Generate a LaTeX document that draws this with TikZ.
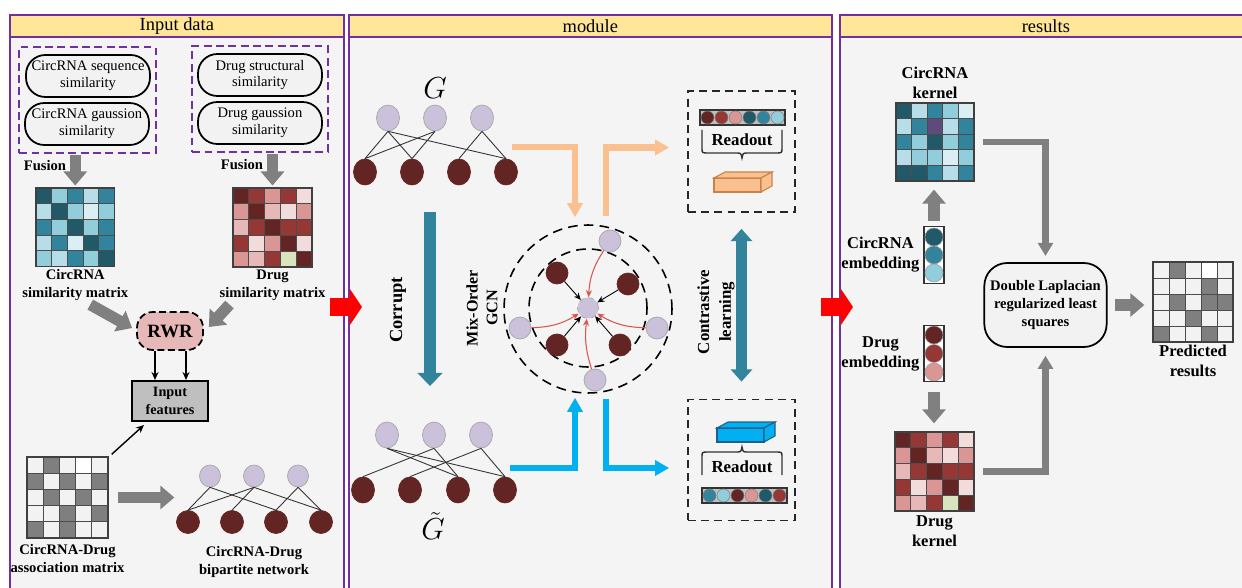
\documentclass[tikz,border=0pt]{standalone}
\usepackage{fontspec}
\setmainfont{Liberation Serif}
\usetikzlibrary{arrows.meta, positioning, shapes.geometric, fit, calc}

\definecolor{panelpurple}{HTML}{7030A0}
\definecolor{headgold}{HTML}{FFE699}
\definecolor{panelgray}{HTML}{F4F4F4}
\definecolor{tlA}{HTML}{215968}
\definecolor{tlB}{HTML}{31849B}
\definecolor{tlC}{HTML}{92CDDC}
\definecolor{tlD}{HTML}{B7DEE8}
\definecolor{tlE}{HTML}{DAEEF3}
\definecolor{rdA}{HTML}{632523}
\definecolor{rdB}{HTML}{953735}
\definecolor{rdC}{HTML}{DA9694}
\definecolor{rdD}{HTML}{E6B9B8}
\definecolor{rdE}{HTML}{F2DCDB}
\definecolor{gnL}{HTML}{D7E4BD}
\definecolor{kpur}{HTML}{604A7B}
\definecolor{gyD}{HTML}{7F7F7F}
\definecolor{gyL}{HTML}{F2F2F2}
\definecolor{lav}{HTML}{CCC1DA}
\definecolor{peach}{HTML}{FAC090}
\definecolor{peachline}{HTML}{C9834A}
\definecolor{skyblue}{HTML}{00B0F0}
\definecolor{blueline}{HTML}{1F5F8B}
\definecolor{arrowgray}{HTML}{808080}
\definecolor{rwrpink}{HTML}{E6B8B7}
\definecolor{featgray}{HTML}{BFBFBF}
\definecolor{gcnred}{HTML}{D9574A}

% 5x5 coloured grid: name, x, y, cell, rows
\newcommand{\heatmap}[5]{%
  \foreach \row [count=\i from 0] in {#5} {
    \foreach \cc [count=\j from 0] in \row
      \filldraw[fill=\cc, draw=black!70, line width=0.5pt] ({#2+\j*#4},{#3+\i*#4}) rectangle ++(#4,#4);
  }
  \node[draw=black!75, line width=0.8pt, inner sep=0pt, fit={(#2,#3) ({#2+5*#4},{#3+5*#4})}] (#1) {};
}

\begin{document}
\begin{tikzpicture}[
    x=0.02cm, y=-0.02cm,
    >=Stealth,
    font=\fontsize{8.3}{9.6}\selectfont,
    % Define styles for the different node types
    panel/.style={rectangle, draw=panelpurple, line width=1pt, fill=panelgray, anchor=north west, minimum height=11.8cm, inner sep=0pt},
    header/.style={rectangle, draw=panelpurple, line width=1pt, fill=headgold, anchor=north west, minimum height=0.44cm, inner sep=0pt, font=\fontsize{10.5}{12}\selectfont},
    simnode/.style={rectangle, rounded corners=11pt, draw, line width=1pt, fill=gyL, minimum width=2.48cm, minimum height=0.84cm, inner sep=1pt, align=center},
    dashbox/.style={rectangle, draw=panelpurple, line width=1.1pt, dash pattern=on 4.5pt off 2.5pt, inner xsep=2.8pt, inner ysep=3.8pt},
    boldlbl/.style={font=\fontsize{8.3}{10.2}\selectfont\bfseries, align=center, inner sep=1pt},
    bigl/.style={font=\fontsize{9.4}{11.4}\selectfont\bfseries, align=center, inner sep=1pt},
    rwrnode/.style={rectangle, rounded corners=9pt, draw, line width=1pt, dash pattern=on 4pt off 2pt, fill=rwrpink, minimum width=1.32cm, minimum height=0.76cm, font=\fontsize{10.7}{12}\selectfont\bfseries},
    featnode/.style={rectangle, draw, line width=1.2pt, fill=featgray, minimum width=1.52cm, minimum height=0.8cm, align=center, inner sep=1pt, font=\fontsize{8.1}{9.8}\selectfont\bfseries},
    lavnode/.style={ellipse, fill=lav, draw=black!35, line width=0.4pt, minimum width=0.46cm, minimum height=0.52cm, inner sep=0pt},
    darknode/.style={ellipse, fill=rdA, draw=rdA, line width=0.4pt, minimum width=0.46cm, minimum height=0.52cm, inner sep=0pt},
    edge/.style={draw=black!80, line width=0.5pt},
    dashring/.style={circle, draw=black, line width=0.9pt, dash pattern=on 5.5pt off 3.5pt, inner sep=0pt},
    readbox/.style={rectangle, draw=black!85, line width=1pt, dash pattern=on 4.5pt off 3pt, minimum width=2.14cm, minimum height=2.42cm},
    barnode/.style={rectangle, draw=black!80, line width=0.8pt, fill=black!25, minimum width=1.7cm, minimum height=0.3cm, inner sep=0pt},
    dot/.style={circle, draw=black!50, line width=0.3pt, minimum size=0.26cm, inner sep=0pt},
    embbar/.style={rectangle, draw=black!80, line width=0.8pt, fill=white, minimum width=0.4cm, minimum height=1.13cm, inner sep=0pt},
    embdot/.style={circle, draw=black!40, line width=0.3pt, minimum size=0.36cm, inner sep=0pt},
    readlbl/.style={font=\fontsize{9.6}{11}\selectfont\bfseries, inner sep=1pt},
    dlnode/.style={rectangle, rounded corners=13pt, draw, line width=1pt, fill=gyL, minimum width=2.38cm, minimum height=1.68cm, align=center, font=\fontsize{8.3}{10.2}\selectfont\bfseries},
    grayarrow/.style={draw=arrowgray, line width=6.5pt, -{Triangle[length=8pt, width=13pt]}},
    grayarrowthin/.style={draw=arrowgray, line width=3.6pt, -{Triangle[length=7.5pt, width=8.5pt]}},
    blackarrow/.style={draw=black, line width=0.8pt, -{Stealth[length=4.5pt, width=4pt]}},
    redarrow/.style={draw=red, line width=10.2pt, -{Triangle[length=7pt, width=20.5pt]}},
    tealarrow/.style={draw=tlB, line width=6.8pt, -{Triangle[length=7.5pt, width=14pt]}},
    peacharrow/.style={draw=peach, line width=3.6pt, -{Triangle[length=8pt, width=8.5pt]}},
    bluearrow/.style={draw=skyblue, line width=3.6pt, -{Triangle[length=8pt, width=8.5pt]}},
    gcnblack/.style={draw=black, line width=0.5pt, -{Stealth[length=4pt, width=3.5pt]}},
    gcnredarrow/.style={draw=gcnred, line width=0.6pt, -{Stealth[length=4pt, width=3.5pt]}},
    readbrace/.pic={
        \draw[black!80, line width=0.8pt] (-40,-28) -- (-40,-10) .. controls (-40,-5) .. (-34,-5) -- (-6,-5)
            .. controls (-1,-5) .. (0,0) .. controls (1,-5) .. (6,-5) -- (34,-5) .. controls (40,-5) .. (40,-10) -- (40,-28);
    },
]

\fill[white] (0,0) rectangle (1242,588);
\useasboundingbox (0,0) rectangle (1242,588);

% -------------------------
% Panels
% -------------------------
\node[panel, minimum width=6.68cm] (pinput) at (9,14) {};
\node[panel, minimum width=9.66cm] (pmodule) at (348,14) {};
\node[panel, minimum width=8.24cm] (presults) at (839,14) {};
\node[header, minimum width=6.68cm] (hinput) at (9,14) {Input data};
\node[header, minimum width=9.66cm] (hmodule) at (348,14) {module};
\node[header, minimum width=8.24cm] (hresults) at (839,14) {results};

% -------------------------
% Input data
% -------------------------
\node[simnode] (csq) at (88,76) {CircRNA sequence\\similarity};
\node[simnode] (cgs) at (87,124) {CircRNA gaussion\\similarity};
\node[simnode] (dst) at (260,75) {Drug structural\\similarity};
\node[simnode] (dgs) at (260,123) {Drug gaussion\\similarity};
\node[dashbox, fit=(csq) (cgs)] (cbox) {};
\node[dashbox, fit=(dst) (dgs)] (dbox) {};

\heatmap{cmat}{36}{188}{15.7}{{tlA,tlC,tlB,tlD,tlB},{tlD,tlA,tlC,tlE,tlC},{tlB,tlC,tlA,tlC,tlB},{tlD,tlB,tlE,tlA,tlB},{tlC,tlD,tlB,tlC,tlA}}
\heatmap{dmat}{233}{188}{15.8}{{rdA,rdB,rdC,rdB,rdE},{rdC,rdA,rdD,rdE,rdC},{rdD,rdB,rdA,rdB,rdB},{rdB,rdE,rdC,rdA,rdE},{rdC,rdD,rdB,gnL,rdA}}

\draw[grayarrow, shorten <=1pt, shorten >=1pt] (cbox.south -| cmat.north) -- (cmat.north);
\draw[grayarrow, shorten <=1pt, shorten >=1pt] (dbox.south -| dmat.north) -- (dmat.north);
\node[boldlbl] (fus1) at (45,166) {Fusion};
\node[boldlbl] (fus2) at (242,165) {Fusion};

\node[boldlbl, below=0pt of cmat] (cmatlbl) {CircRNA\\similarity matrix};
\node[boldlbl, below=0pt of dmat] (dmatlbl) {Drug\\similarity matrix};

\node[rwrnode] (rwr) at (170,331) {RWR};
\draw[grayarrow] ($(cmatlbl.south)+(15,2)$) -- ($(rwr.west)+(-4,-3)$);
\draw[grayarrow] ($(dmatlbl.south)+(-43,2)$) -- ($(rwr.east)+(5,-4)$);

\node[featnode] (feat) at (170,401) {Input\\features};
\draw[blackarrow] ($(rwr.south)+(-15,0)$) -- ($(feat.north)+(-15,0)$);
\draw[blackarrow] ($(rwr.south)+(16,0)$) -- ($(feat.north)+(16,0)$);

\heatmap{amat}{27}{457}{16.2}{{gyL,gyD,gyL,white,gyL},{gyD,gyL,gyD,gyL,gyD},{gyL,gyD,gyL,gyD,gyL},{gyL,gyL,gyD,gyL,gyD},{gyD,gyL,gyD,gyL,gyL}}
\node[boldlbl, below=2pt of amat] (amatlbl) {CircRNA-Drug\\association matrix};
\draw[blackarrow] ($(amat.north east)+(3,-2)$) -- ($(feat.south west)+(13,3)$);

% bipartite network
\foreach \k/\x in {1/210,2/254,3/298}
    \node[lavnode, minimum width=0.42cm, minimum height=0.44cm] (bt\k) at (\x,476) {};
\foreach \k/\x in {1/188,2/232,3/276,4/321}
    \node[darknode, minimum width=0.46cm, minimum height=0.46cm] (bb\k) at (\x,522) {};
\foreach \a/\b in {1/1,1/3,2/1,2/2,2/4,3/3,3/4}
    \draw[edge] (bt\a.south) -- (bb\b.north);
\draw[grayarrow, shorten <=5.5pt, shorten >=1pt] (amat.east) -- (amat.east -| bb1.west);
\node[boldlbl] (biplbl) at (254,562) {CircRNA-Drug\\bipartite network};

% -------------------------
% Module
% -------------------------
\node[font=\fontsize{16}{18}\selectfont] (glbl) at (435,88) {$G$};
\foreach \k/\x in {1/388,2/435,3/482}
    \node[lavnode] (gt\k) at (\x,118) {};
\foreach \k/\x in {1/365,2/412,3/459,4/506}
    \node[darknode] (gb\k) at (\x,172) {};
\foreach \a/\b in {1/1,1/2,1/4,2/1,2/2,3/3,3/4}
    \draw[edge] (gt\a.south) -- (gb\b.north);

\foreach \k/\x in {1/387,2/434,3/481}
    \node[lavnode] (ht\k) at (\x,435) {};
\foreach \k/\x in {1/363,2/410,3/458,4/505}
    \node[darknode] (hb\k) at (\x,490) {};
\foreach \a/\b in {1/3,1/4,2/1,2/3,3/2,3/4}
    \draw[edge] (ht\a.south) -- (hb\b.north);
\node[font=\fontsize{16}{18}\selectfont] (gtlbl) at (433,526) {$\tilde{G}$};

% corrupt
\coordinate (cor1) at (430,212);
\coordinate (cor2) at (430,386);
\draw[tealarrow] (cor1) -- (cor2);
\node[boldlbl, rotate=90, font=\fontsize{10.5}{12}\selectfont\bfseries] (corlbl) at (398,310) {Corrupt};
\node[boldlbl, rotate=90, font=\fontsize{9.2}{11.3}\selectfont\bfseries] (mixlbl) at (482,308) {Mix-Order\\GCN};

% mix-order GCN
\node[dashring, minimum size=3.36cm] (ring2) at (588,309) {};
\node[dashring, minimum size=2.36cm] (ring1) at (588,308) {};
\node[lavnode, dashed, minimum width=0.42cm, minimum height=0.42cm] (gc) at (588,308) {};
\foreach \k/\x/\y in {1/557/273,2/628/284,3/557/345,4/620/345}
    \node[darknode, minimum width=0.44cm, minimum height=0.44cm] (d\k) at (\x,\y) {};
\foreach \k/\x/\y in {1/610/241,2/520/328,3/657/328,4/595/380}
    \node[lavnode, minimum width=0.44cm, minimum height=0.44cm] (o\k) at (\x,\y) {};
\foreach \k in {1,...,4}
    \draw[gcnblack] (d\k) -- (gc);
\draw[gcnredarrow] (o1) to[bend right=15] (gc);
\draw[gcnredarrow] (o2) to[bend right=15] (gc);
\draw[gcnredarrow] (o3) to[bend left=15] (gc);
\draw[gcnredarrow] (o4) to[bend left=12] (gc);

% readout boxes
\node[readbox] (rtop) at (741.5,151.5) {};
\node[readbox] (rbot) at (741.5,460) {};

\node[barnode] (rbar1) at (742.5,117.5) {};
\foreach \cc [count=\k from 0] in {rdA,rdB,rdC,tlA,tlB,tlC}
    \node[dot, fill=\cc] (ra\k) at ({707.5+14*\k},117.5) {};
\pic at (742,158) {readbrace};
\node[readlbl] (rl1) at (742,140) {Readout};

\node[barnode] (rbar2) at (744.5,495.5) {};
\foreach \cc [count=\k from 0] in {tlB,tlC,rdA,rdC,tlA,rdB}
    \node[dot, fill=\cc] (rb\k) at ({709.5+14*\k},495.5) {};
\pic[yscale=-1] at (742,447) {readbrace};
\node[readlbl] (rl2) at (742,467) {Readout};

% feature slabs
\foreach \sx/\sy/\sf/\sd in {714/178/peach/peachline, 717/428/skyblue/blueline} {
    \filldraw[fill=\sf, draw=\sd, line width=0.6pt] (\sx,\sy) rectangle ++(47,14);
    \filldraw[fill=\sf, draw=\sd, line width=0.6pt] (\sx,\sy) -- ++(11,-6) -- ++(47,0) -- ++(-11,6) -- cycle;
    \filldraw[fill=\sf, draw=\sd, line width=0.6pt] ({\sx+47},\sy) -- ++(11,-6) -- ++(0,14) -- ++(-11,6) -- cycle;
}

% flow arrows round the GCN
\coordinate (pk1) at (512,147);
\draw[peacharrow] (pk1) -| ($(ring2.north)+(-13,-7)$);
\draw[peacharrow] ($(ring2.north)+(18,-8)$) |- ($(rtop.west)+(-18,-4)$);
\coordinate (bl1) at (510,468);
\draw[bluearrow] (bl1) -| ($(ring2.south)+(-13,4)$);
\draw[bluearrow] ($(ring2.south)+(18,5)$) |- ($(rbot.west)+(-18,8)$);

% contrastive learning
\draw[tealarrow, line width=6.2pt, {Triangle[length=7pt, width=12pt]}-{Triangle[length=7pt, width=12pt]}] ($(rtop.south)+(0,16)$) -- ($(rbot.north)+(0,-17)$);
\node[boldlbl, rotate=90, font=\fontsize{9.6}{12.5}\selectfont\bfseries] (contr) at (716,312) {Contrastive\\learning};

% -------------------------
% Results
% -------------------------
\heatmap{kmat}{896}{103}{15.6}{{tlA,tlD,tlB,tlC,tlE},{tlD,tlB,kpur,tlD,tlB},{tlB,tlC,tlA,tlC,tlB},{tlD,tlC,tlC,tlE,tlC},{tlA,tlA,tlB,tlD,tlB}}
\node[bigl, above=1pt of kmat] (kmatlbl) {CircRNA\\kernel};

\node[embbar] (cemb) at (934,255) {};
\foreach \cc/\y [count=\k] in {tlA/237,tlB/255,tlC/273}
    \node[embdot, fill=\cc] (ce\k) at (934,\y) {};
\node[bigl, left=1pt of cemb] (cemblbl) {CircRNA\\embedding};
\draw[grayarrow, shorten <=3pt, shorten >=4.5pt] (cemb.north) -- (cemb.north |- kmat.south);

\node[embbar] (demb) at (934,353.5) {};
\foreach \cc/\y [count=\k] in {rdA/335,rdB/353.5,rdC/372}
    \node[embdot, fill=\cc] (de\k) at (934,\y) {};
\node[bigl, left=1pt of demb] (demblbl) {Drug\\embedding};

\heatmap{dkmat}{895}{432}{15.8}{{rdA,rdB,rdC,rdB,rdE},{rdC,rdA,rdD,rdE,rdC},{rdD,rdB,rdA,rdB,rdB},{rdB,rdE,rdC,rdA,rdE},{rdC,rdD,rdB,gnL,rdA}}
\node[bigl, below=1pt of dkmat] (dkmatlbl) {Drug\\kernel};
\draw[grayarrow, shorten <=5.5pt, shorten >=4.5pt] (demb.south) -- (demb.south |- dkmat.north);

\node[dlnode] (dl) at (1045.5,305) {Double Laplacian\\regularized least\\squares};
\draw[grayarrowthin, shorten <=4.5pt, shorten >=3.5pt] (kmat.east) -| (dl.north);
\draw[grayarrowthin, shorten <=4.5pt, shorten >=4.5pt] (dkmat.east) -| (dl.south);

\heatmap{pmat}{1153}{262}{16}{{gyL,gyD,gyL,white,gyL},{gyL,gyL,gyL,gyD,gyL},{gyL,gyD,gyL,gyD,gyD},{gyL,gyL,gyD,gyL,gyL},{gyD,gyL,gyL,gyD,gyL}}
\node[bigl, below=0pt of pmat] (pmatlbl) {Predicted\\results};
\draw[grayarrow, shorten <=4pt, shorten >=4.5pt] (dl.east) -- (dl.east -| pmat.west);

% panel-to-panel arrows
\coordinate (ra1) at (330,307);
\coordinate (ra2) at (362,307);
\draw[redarrow] (ra1) -- (ra2);
\coordinate (rb1) at (821,307);
\coordinate (rb2) at (853,307);
\draw[redarrow] (rb1) -- (rb2);

\end{tikzpicture}
\end{document}
